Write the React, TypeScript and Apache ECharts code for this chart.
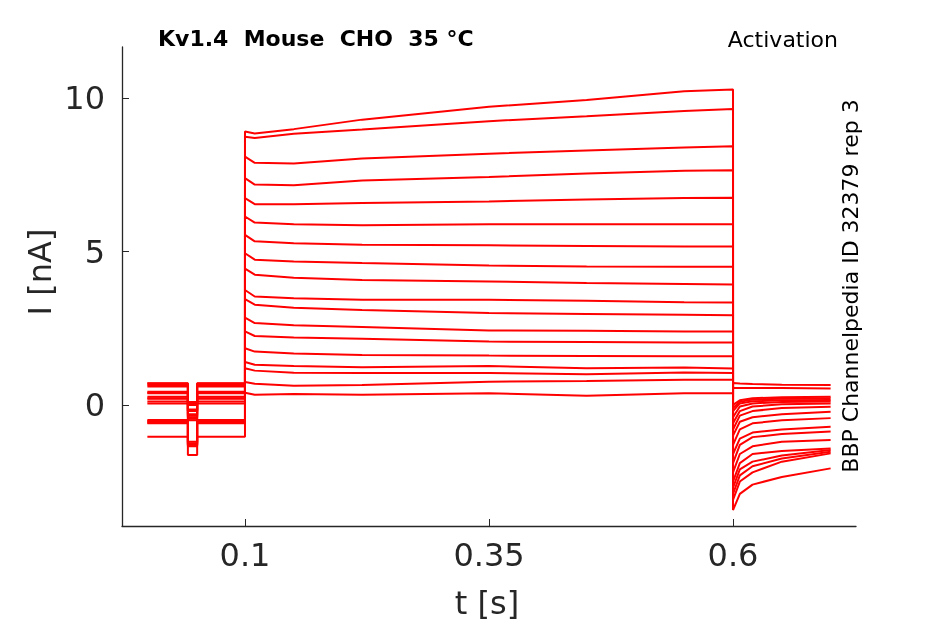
import { useEffect, useRef } from 'react';
import * as echarts from 'echarts';

// time points (s) of each part of the protocol
const holdT = [0, 0.0415, 0.0415, 0.051, 0.051, 0.1];
const stepT = [0.1, 0.11, 0.15, 0.22, 0.35, 0.45, 0.55, 0.6];
const tailT = [0.6, 0.607, 0.62, 0.65, 0.7];

// holding current and the short test dip (nA), one per sweep
const holdLevel = [-1.04, -0.6, -0.55, -0.49, -0.52, -0.58, 0.05, 0.11, 0.22, 0.27, 0.38, 0.43, 0.6, 0.65, 0.71, 0.7, 0.2, 0.4];
const dipLevel = [-1.63, -1.35, -1.3, -1.2, -1.25, -1.3, -0.5, -0.45, -0.35, -0.3, -0.2, -0.15, 0.0, 0.05, 0.1, 0.1, -0.4, -0.2];

// step currents (nA) at stepT
const stepCurrents = [
  [8.92, 8.86, 9.0, 9.31, 9.73, 9.95, 10.24, 10.29],
  [8.75, 8.71, 8.85, 8.99, 9.26, 9.42, 9.59, 9.66],
  [8.1, 7.9, 7.88, 8.04, 8.2, 8.3, 8.4, 8.44],
  [7.4, 7.19, 7.17, 7.32, 7.44, 7.55, 7.64, 7.66],
  [6.75, 6.55, 6.55, 6.59, 6.64, 6.7, 6.75, 6.76],
  [6.15, 5.95, 5.9, 5.86, 5.9, 5.9, 5.9, 5.9],
  [5.55, 5.34, 5.28, 5.23, 5.21, 5.19, 5.17, 5.17],
  [4.95, 4.74, 4.68, 4.63, 4.55, 4.52, 4.51, 4.51],
  [4.45, 4.25, 4.15, 4.08, 4.03, 3.98, 3.95, 3.93],
  [3.75, 3.54, 3.48, 3.43, 3.43, 3.4, 3.35, 3.34],
  [3.45, 3.27, 3.17, 3.1, 3.0, 2.97, 2.94, 2.93],
  [2.85, 2.67, 2.6, 2.54, 2.43, 2.42, 2.4, 2.4],
  [2.4, 2.25, 2.2, 2.16, 2.07, 2.05, 2.04, 2.04],
  [1.85, 1.74, 1.68, 1.63, 1.61, 1.6, 1.59, 1.59],
  [1.4, 1.31, 1.27, 1.23, 1.27, 1.2, 1.22, 1.19],
  [1.2, 1.12, 1.05, 1.04, 1.04, 1.0, 1.06, 1.04],
  [0.75, 0.69, 0.63, 0.65, 0.76, 0.78, 0.82, 0.82],
  [0.4, 0.33, 0.36, 0.33, 0.38, 0.3, 0.38, 0.38],
];

// tail currents (nA) at tailT
const tailCurrents = [
  [-3.43, -2.9, -2.6, -2.35, -2.07],
  [-3.1, -2.5, -2.2, -1.85, -1.58],
  [-2.9, -2.3, -2.0, -1.75, -1.53],
  [-2.7, -2.1, -1.85, -1.65, -1.47],
  [-2.5, -1.9, -1.6, -1.5, -1.42],
  [-2.2, -1.6, -1.35, -1.2, -1.14],
  [-1.9, -1.3, -1.05, -0.95, -0.87],
  [-1.6, -1.1, -0.9, -0.8, -0.71],
  [-1.3, -0.8, -0.6, -0.5, -0.43],
  [-1.0, -0.55, -0.4, -0.3, -0.22],
  [-0.8, -0.35, -0.2, -0.1, -0.06],
  [-0.6, -0.2, -0.05, 0.02, 0.05],
  [-0.4, -0.05, 0.05, 0.1, 0.11],
  [-0.2, 0.05, 0.12, 0.15, 0.16],
  [-0.1, 0.1, 0.18, 0.2, 0.22],
  [0.0, 0.15, 0.22, 0.25, 0.27],
  [0.55, 0.55, 0.55, 0.55, 0.54],
  [0.72, 0.7, 0.68, 0.66, 0.65],
];

const xTicks = [0.1, 0.35, 0.6];
const yTicks = [0, 5, 10];

const axisColor = '#262626';
const font = 'DejaVu Sans';

export default function App() {
  const chartRef = useRef<HTMLDivElement>(null);

  useEffect(() => {
    if (!chartRef.current) return;
    const chart = echarts.init(chartRef.current, undefined, { renderer: 'svg' });

    const series = stepCurrents.map((step, i) => {
      const h = holdLevel[i];
      const d = dipLevel[i];
      const holdVals = [h, h, d, d, h, h];
      const data: number[][] = [];
      holdT.forEach((t, k) => data.push([t, holdVals[k]]));
      stepT.forEach((t, k) => data.push([t, step[k]]));
      tailT.forEach((t, k) => data.push([t, tailCurrents[i][k]]));
      return {
        type: 'line',
        data,
        showSymbol: false,
        silent: true,
        lineStyle: { color: '#ff0000', width: 2 },
      };
    });

    chart.setOption({
      animation: false,
      grid: { left: 122, top: 47, width: 734, height: 479, containLabel: false },
      xAxis: {
        type: 'value',
        min: -0.026,
        max: 0.726,
        splitLine: { show: false },
        axisLine: { show: true, onZero: false, lineStyle: { color: axisColor, width: 1.3 } },
        axisTick: { show: true, inside: true, length: 7, customValues: xTicks, lineStyle: { color: axisColor } },
        axisLabel: {
          customValues: xTicks,
          color: axisColor,
          fontFamily: font,
          fontSize: 32,
          margin: 13,
          formatter: (v: number) => String(v),
        },
      },
      yAxis: {
        type: 'value',
        min: -3.95,
        max: 11.68,
        splitLine: { show: false },
        axisLine: { show: true, onZero: false, lineStyle: { color: axisColor, width: 1.3 } },
        axisTick: { show: true, inside: true, length: 7, customValues: yTicks, lineStyle: { color: axisColor } },
        axisLabel: {
          customValues: yTicks,
          color: axisColor,
          fontFamily: font,
          fontSize: 32,
          margin: 17,
        },
      },
      graphic: [
        {
          type: 'text',
          left: 158,
          top: 27,
          style: { text: 'Kv1.4  Mouse  CHO  35 °C', font: `bold 22px "${font}"`, fill: '#000' },
        },
        {
          type: 'text',
          x: 838,
          y: 39,
          style: { text: 'Activation', font: `22px "${font}"`, fill: '#000', align: 'right', verticalAlign: 'middle' },
        },
        {
          type: 'text',
          x: 850,
          y: 286,
          rotation: Math.PI / 2,
          style: {
            text: 'BBP Channelpedia ID 32379 rep 3',
            font: `22px "${font}"`,
            fill: '#000',
            align: 'center',
            verticalAlign: 'middle',
          },
        },
        {
          type: 'text',
          x: 40,
          y: 272,
          rotation: Math.PI / 2,
          style: { text: 'I [nA]', font: `32px "${font}"`, fill: axisColor, align: 'center', verticalAlign: 'middle' },
        },
        {
          type: 'text',
          x: 487,
          y: 603,
          style: { text: 't [s]', font: `32px "${font}"`, fill: axisColor, align: 'center', verticalAlign: 'middle' },
        },
      ],
      series,
    });

    return () => {
      chart.dispose();
    };
  }, []);

  return <div ref={chartRef} style={{ position: 'fixed', left: 0, top: 0, width: 945, height: 624 }}></div>;
}
